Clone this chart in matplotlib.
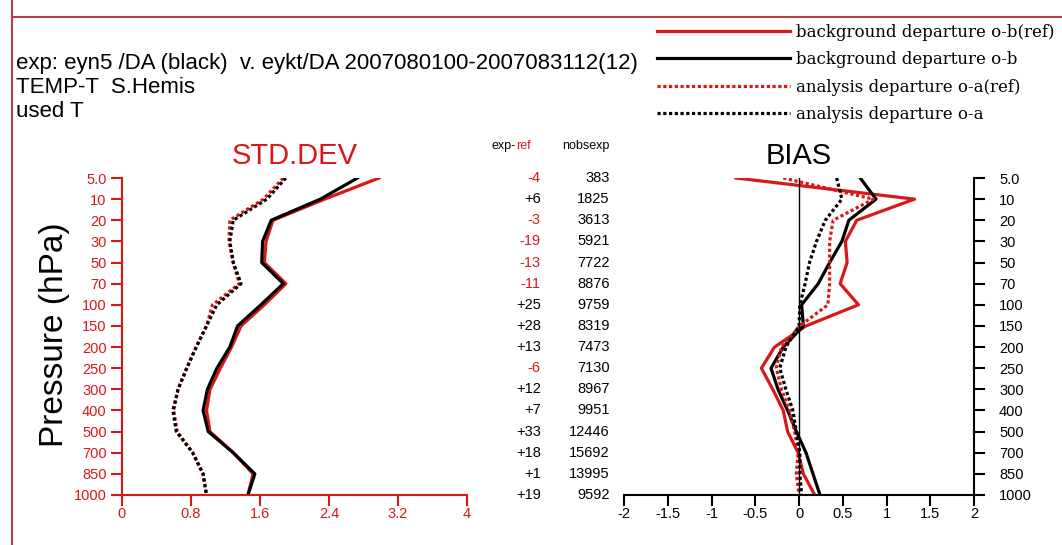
import matplotlib.pyplot as plt
from matplotlib.lines import Line2D
from matplotlib.ticker import FixedLocator, FixedFormatter

plt.rcParams['font.family'] = ['Liberation Sans', 'DejaVu Sans']

RED = '#d81818'
FRAME = '#b84040'

# pressure levels (hPa), plotted equally spaced
levels = ['5.0', '10', '20', '30', '50', '70', '100', '150', '200', '250',
          '300', '400', '500', '700', '850', '1000']

# STD.DEV profiles
std_ob_ref = [2.98, 2.35, 1.75, 1.67, 1.65, 1.90, 1.65, 1.38, 1.27, 1.14,
              1.02, 0.98, 1.02, 1.29, 1.52, 1.46]
std_ob = [2.73, 2.30, 1.73, 1.63, 1.62, 1.87, 1.61, 1.34, 1.25, 1.10,
          0.99, 0.94, 1.00, 1.29, 1.54, 1.46]
std_oa_ref = [1.87, 1.64, 1.25, 1.24, 1.29, 1.36, 1.05, 0.98, 0.86, 0.75,
              0.65, 0.60, 0.64, 0.82, 0.94, 0.98]
std_oa = [1.90, 1.68, 1.29, 1.25, 1.29, 1.38, 1.10, 0.98, 0.86, 0.75,
          0.65, 0.59, 0.63, 0.82, 0.94, 0.98]

# BIAS profiles
bias_ob_ref = [-0.72, 1.32, 0.66, 0.53, 0.55, 0.47, 0.68, 0.08, -0.28, -0.43,
               -0.30, -0.18, -0.13, -0.01, 0.05, 0.18]
bias_ob = [0.70, 0.88, 0.57, 0.49, 0.35, 0.22, 0.03, 0.05, -0.18, -0.32,
           -0.24, -0.13, -0.03, 0.08, 0.16, 0.24]
bias_oa_ref = [-0.18, 0.85, 0.39, 0.35, 0.35, 0.35, 0.33, 0.01, -0.20, -0.26,
               -0.20, -0.11, -0.05, -0.01, -0.03, 0.00]
bias_oa = [0.43, 0.49, 0.30, 0.20, 0.12, 0.07, 0.01, 0.00, -0.15, -0.22,
           -0.15, -0.07, -0.03, 0.01, 0.01, 0.03]

# table columns
exp_ref = [-4, 6, -3, -19, -13, -11, 25, 28, 13, -6, 12, 7, 33, 18, 1, 19]
nobs_exp = [383, 1825, 3613, 5921, 7722, 8876, 9759, 8319, 7473, 7130,
            8967, 9951, 12446, 15692, 13995, 9592]

std_ticks = [0, 0.8, 1.6, 2.4, 3.2, 4]
std_ticklabels = ['0', '0.8', '1.6', '2.4', '3.2', '4']
bias_ticks = [-2, -1.5, -1, -0.5, 0, 0.5, 1, 1.5, 2]
bias_ticklabels = ['-2', '-1.5', '-1', '-0.5', '0', '0.5', '1', '1.5', '2']

legend_labels = ['background departure o-b(ref)', 'background departure o-b',
                 'analysis departure o-a(ref)', 'analysis departure o-a']

W, H = 1062, 545
fig = plt.figure(figsize=(W / 100, H / 100), dpi=100)


def frac(x0, y0, x1, y1):
    # pixel box -> figure fraction rect
    return [x0 / W, 1 - y1 / H, (x1 - x0) / W, (y1 - y0) / H]


ax_std = fig.add_axes(frac(122, 178, 467, 495))
ax_bias = fig.add_axes(frac(624, 178, 974, 495))

ys = list(range(len(levels)))
dotted = (0, (1.0, 0.8))
lw = 2.3

# STD.DEV panel
ax_std.plot(std_ob_ref, ys, color=RED, lw=lw)
ax_std.plot(std_ob, ys, color='black', lw=lw)
ax_std.plot(std_oa_ref, ys, color=RED, lw=lw, ls=dotted)
ax_std.plot(std_oa, ys, color='black', lw=lw, ls=dotted)
ax_std.set_xlim(0, 4)
ax_std.set_ylim(len(levels) - 1, 0)
for s in ['top', 'right']:
    ax_std.spines[s].set_visible(False)
for s in ['left', 'bottom']:
    ax_std.spines[s].set_color(RED)
    ax_std.spines[s].set_linewidth(1.5)
ax_std.xaxis.set_major_locator(FixedLocator(std_ticks))
ax_std.xaxis.set_major_formatter(FixedFormatter(std_ticklabels))
ax_std.yaxis.set_major_locator(FixedLocator(ys))
ax_std.yaxis.set_major_formatter(FixedFormatter(levels))
ax_std.tick_params(colors=RED, labelcolor=RED, length=8, width=1.5,
                   labelsize=10.5)
ax_std.tick_params(axis='x', pad=1)
ax_std.tick_params(axis='y', pad=3)
ax_std.set_title('STD.DEV', color=RED, fontsize=21, pad=10)

# BIAS panel
l1, = ax_bias.plot(bias_ob_ref, ys, color=RED, lw=lw)
l2, = ax_bias.plot(bias_ob, ys, color='black', lw=lw)
l3, = ax_bias.plot(bias_oa_ref, ys, color=RED, lw=lw, ls=dotted)
l4, = ax_bias.plot(bias_oa, ys, color='black', lw=lw, ls=dotted)
ax_bias.axvline(0, color='black', lw=1)
ax_bias.set_xlim(-2, 2)
ax_bias.set_ylim(len(levels) - 1, 0)
for s in ['top', 'left']:
    ax_bias.spines[s].set_visible(False)
for s in ['right', 'bottom']:
    ax_bias.spines[s].set_linewidth(1.5)
ax_bias.xaxis.set_major_locator(FixedLocator(bias_ticks))
ax_bias.xaxis.set_major_formatter(FixedFormatter(bias_ticklabels))
ax_bias.yaxis.tick_right()
ax_bias.yaxis.set_major_locator(FixedLocator(ys))
ax_bias.yaxis.set_major_formatter(FixedFormatter(levels))
ax_bias.tick_params(length=8, width=1.5, labelsize=10.5)
ax_bias.tick_params(axis='x', pad=1)
ax_bias.tick_params(axis='y', pad=10)
ax_bias.set_title('BIAS', color='black', fontsize=21, pad=10)

# table between the panels
tr = ax_std.get_yaxis_transform()
ax_std.text(1.142, -1.5, 'exp-', transform=tr, ha='right', va='center',
            fontsize=9, clip_on=False)
ax_std.text(1.142, -1.5, 'ref', transform=tr, ha='left', va='center',
            fontsize=9, color=RED, clip_on=False)
ax_std.text(1.414, -1.5, 'nobsexp', transform=tr, ha='right', va='center',
            fontsize=9, clip_on=False)
for y, d, n in zip(ys, exp_ref, nobs_exp):
    ax_std.text(1.214, y, f'{d:+d}', transform=tr, ha='right', va='center',
                fontsize=10.5, color=RED if d < 0 else 'black', clip_on=False)
    ax_std.text(1.414, y, str(n), transform=tr, ha='right', va='center',
                fontsize=10.5, clip_on=False)

# header text
fig.text(16 / W, 1 - 63 / H,
         'exp: eyn5 /DA (black)  v. eykt/DA 2007080100-2007083112(12)',
         fontsize=16, va='center')
fig.text(16 / W, 1 - 87 / H, 'TEMP-T  S.Hemis', fontsize=16, va='center')
fig.text(16 / W, 1 - 111 / H, 'used T', fontsize=16, va='center')
fig.text(55 / W, 1 - 335 / H, 'Pressure (hPa)', fontsize=24, rotation=90,
         ha='center', va='center')

# legend
fig.legend([l1, l2, l3, l4], legend_labels, loc='upper right',
           bbox_to_anchor=(1055 / W, 1 - 24 / H), frameon=False,
           prop={'family': 'DejaVu Serif', 'size': 12},
           handlelength=8, handletextpad=0.4, labelspacing=0.62,
           borderpad=0, borderaxespad=0)

# frame lines
fig.add_artist(Line2D([12 / W, 12 / W], [0, 1], color=FRAME, lw=1.5))
fig.add_artist(Line2D([12 / W, 1], [1 - 17 / H, 1 - 17 / H], color=FRAME, lw=1.5))

fig.savefig('out.png', dpi=100)
